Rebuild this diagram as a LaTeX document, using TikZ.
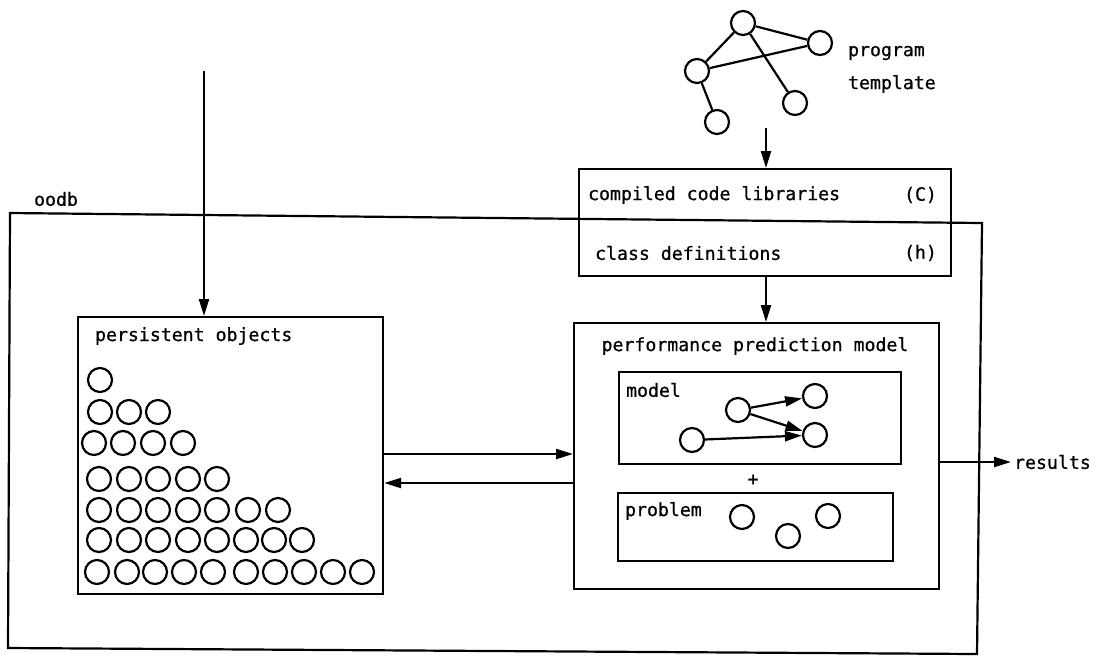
\documentclass[tikz,border=0pt]{standalone}
\usepackage{fontspec}
\setmainfont{DejaVu Sans Mono}[FakeBold=0.7]
\usetikzlibrary{arrows.meta}
\begin{document}
\begin{tikzpicture}[x=1pt,y=-1pt, line width=2.2pt,
  box/.style={draw, rectangle, inner sep=0pt, anchor=north west},
  obj/.style={draw, circle, minimum size=24pt, inner sep=0pt},
  lbl/.style={font=\fontsize{18.2}{20}\selectfont, inner sep=0pt},
  arr/.style={-{Triangle[length=17pt,width=10pt]}}]
\useasboundingbox (0,0) rectangle (1115,657);
% oodb boundary
\coordinate (o1) at (10,213);
\coordinate (o2) at (982,223);
\coordinate (o3) at (977,654);
\coordinate (o4) at (8,648);
\draw (o1) -- (o2) -- (o3) -- (o4) -- cycle;
\node[lbl, anchor=west] (oodblbl) at (33,199) {oodb};
% program template graph
\node[obj] (t1) at (743,23) {};
\node[obj] (t2) at (820,43) {};
\node[obj] (t3) at (697,71) {};
\node[obj] (t4) at (795,103) {};
\node[obj] (t5) at (717,122) {};
\draw (t1) -- (t2);
\draw (t1) -- (t3);
\draw (t3) -- (t2);
\draw (t1) -- (t4);
\draw (t3) -- (t5);
\node[lbl, anchor=west] (pt1) at (847,53) {program};
\node[lbl, anchor=west] (pt2) at (847,84) {template};
% compiled code box
\node[box, minimum width=372pt, minimum height=107pt] (comp) at (578,168) {};
\node[lbl, anchor=west] (ccl) at (587,195) {compiled code libraries};
\node[lbl, anchor=east] (cc) at (938,195) {(C)};
\node[lbl, anchor=west] (cdl) at (594,253) {class definitions};
\node[lbl, anchor=east] (ch) at (938,253) {(h)};
\coordinate (ts) at (766,128);
\draw[arr] (ts) -- (ts |- comp.north);
% performance prediction model
\node[box, minimum width=365pt, minimum height=266pt] (perf) at (573,322) {};
\draw[arr] (ts |- comp.south) -- (ts |- perf.north);
\node[lbl, anchor=center] (perfl) at (755,346) {performance prediction model};
\node[box, minimum width=282pt, minimum height=92pt] (model) at (618,371) {};
\node[lbl, anchor=west] (modell) at (625,390) {model};
\node[obj] (m1) at (738,410) {};
\node[obj] (m2) at (815,396) {};
\node[obj] (m3) at (815,435) {};
\node[obj] (m4) at (692,440) {};
\draw[arr] (m1) -- (m2);
\draw[arr] (m1) -- (m3);
\draw[arr] (m4) -- (m3);
\node[lbl, anchor=center] (plus) at (753,480) {+};
\node[box, minimum width=275pt, minimum height=68pt] (prob) at (617,492) {};
\node[lbl, anchor=west] (probl) at (624,511) {problem};
\node[obj] (q1) at (742,517) {};
\node[obj] (q2) at (788,536) {};
\node[obj] (q3) at (828,516) {};
% persistent objects
\node[box, minimum width=305pt, minimum height=277pt] (pers) at (77,316) {};
\node[lbl, anchor=west] (persl) at (94,336) {persistent objects};
\coordinate (in) at (204,71);
\draw[arr] (in) -- (in |- pers.north);
\foreach \x/\y [count=\i] in {
  100/380,
  100/412, 129/412, 158/412,
  94/443, 123/443, 153/443, 183/443,
  99/479, 129/479, 158/479, 188/479, 217/479,
  99/510, 129/510, 158/510, 188/510, 217/510, 248/510, 278/510,
  99/540, 129/540, 158/540, 188/540, 217/540, 246/540, 274/540, 302/540,
  97/572, 127/572, 155/572, 184/572, 213/572, 246/572, 275/572, 304/572, 333/572, 362/572}
  \node[obj] (po\i) at (\x,\y) {};
% exchange arrows
\coordinate (ya) at (0,454);
\coordinate (yb) at (0,483);
\draw[arr] (pers.east |- ya) -- (perf.west |- ya);
\draw[arr] (perf.west |- yb) -- (pers.east |- yb);
% results
\coordinate (res) at (1011,462);
\draw[arr] (perf.east |- res) -- (res);
\node[lbl, anchor=west] (resl) at (1013,462) {results};
\end{tikzpicture}
\end{document}
